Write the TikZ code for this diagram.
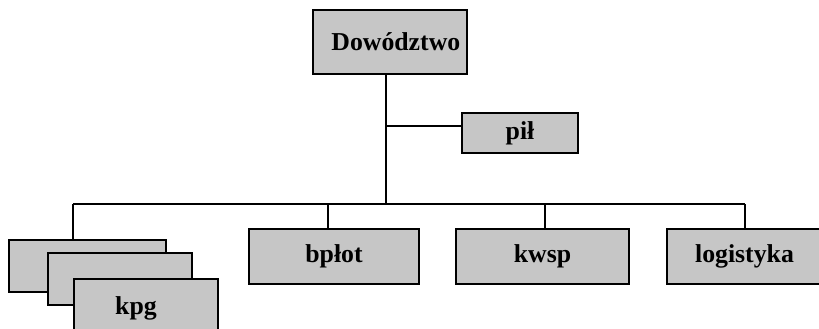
\documentclass[tikz,border=0pt]{standalone}
\usepackage{fontspec}
\setmainfont{Liberation Serif}
\usepackage{tikz}

\begin{document}
\begin{tikzpicture}[x=0.03cm,y=-0.03cm]
    \tikzstyle{every node}+=[inner sep=0pt]
    \tikzstyle{orgbox}=[draw=black, line width=1.3pt, fill=gray!45, font=\bfseries\fontsize{22}{22}\selectfont]
    \useasboundingbox (0,0) rectangle (819,328);
    \node [orgbox, minimum width=4.62cm, minimum height=1.92cm, text depth=0pt] (dow) at (390,42) {\hspace*{0.35cm}Dowództwo};
    \node [orgbox, minimum width=3.48cm, minimum height=1.2cm] (pil) at (520,133) {pił};
    \node [orgbox, minimum width=5.1cm, minimum height=1.65cm] (bplot) at (334,256.5) {bpłot};
    \node [orgbox, minimum width=5.19cm, minimum height=1.65cm] (kwsp) at (542.5,256.5) {kwsp};
    \node [orgbox, minimum width=4.65cm, minimum height=1.65cm] (log) at (744.5,256.5) {logistyka};
    \node [orgbox, minimum width=4.71cm, minimum height=1.56cm] (kpga) at (87.5,266) {};
    \node [orgbox, minimum width=4.32cm, minimum height=1.56cm] (kpgb) at (120,279) {};
    \node [orgbox, minimum width=4.32cm, minimum height=1.56cm] (kpgc) at (146,305) {};
    \node [font=\bfseries\fontsize{22}{22}\selectfont] (kpg) at (136,308) {kpg};
    \coordinate (trunk) at (386,204);
    \coordinate (pilarm) at (386,126);
    \coordinate (busL) at (73,204);
    \coordinate (busR) at (745,204);
    \draw [black, line width=1.3pt] (dow.south -| trunk) -- (trunk);
    \draw [black, line width=1.3pt] (pilarm) -- (pilarm -| pil.west);
    \draw [black, line width=1.3pt] (busL) -- (busR);
    \draw [black, line width=1.3pt] (busL) -- (busL |- kpga.north);
    \draw [black, line width=1.3pt] (328,204) -- (328,0 |- bplot.north);
    \draw [black, line width=1.3pt] (545,204) -- (545,0 |- kwsp.north);
    \draw [black, line width=1.3pt] (busR) -- (busR |- log.north);
\end{tikzpicture}
\end{document}
